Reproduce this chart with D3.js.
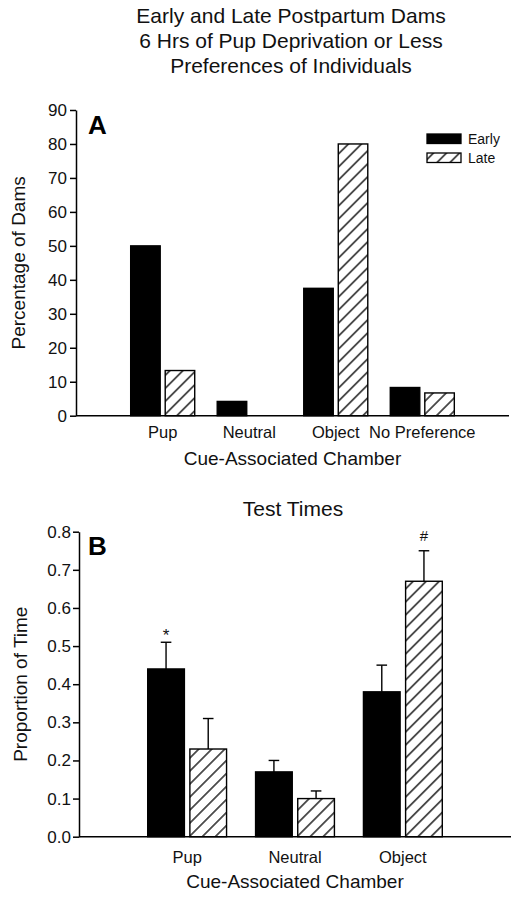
<!DOCTYPE html>
<html>
<head>
<meta charset="utf-8">
<script src="https://cdn.jsdelivr.net/npm/d3@7"></script>
<style>
  html, body { margin: 0; padding: 0; background: #fff; }
  svg { display: block; font-family: "Liberation Sans", Arial, Helvetica, sans-serif; }
</style>
</head>
<body>
<svg id="chart" width="528" height="900"></svg>
<script>
// ---------- DATA ----------
const titleLines = ["Early and Late Postpartum Dams", "6 Hrs of Pup Deprivation or Less", "Preferences of Individuals"];
const seriesNames = ["Early", "Late"];

// Panel A
const catsA = ["Pup", "Neutral", "Object", "No Preference"];
const earlyA = [50, 4.2, 37.5, 8.3];
const lateA = [13.3, 0, 80, 6.7];
const ticksA = [0, 10, 20, 30, 40, 50, 60, 70, 80, 90];

// Panel B
const catsB = ["Pup", "Neutral", "Object"];
const earlyB = [0.44, 0.17, 0.38];
const earlyErrB = [0.07, 0.03, 0.07];
const lateB = [0.23, 0.10, 0.67];
const lateErrB = [0.08, 0.02, 0.08];
const marksB = [["*", null], [null, null], [null, "#"]];
const ticksB = [0, 0.1, 0.2, 0.3, 0.4, 0.5, 0.6, 0.7, 0.8];

// ---------- SETUP ----------
const svg = d3.select("#chart");
const defs = svg.append("defs");
const hw = 9.2;
const pat = defs.append("pattern")
  .attr("id", "hatch")
  .attr("patternUnits", "userSpaceOnUse")
  .attr("width", hw).attr("height", hw)
  .attr("patternTransform", "rotate(45)");
pat.append("rect").attr("width", hw).attr("height", hw).attr("fill", "#fff");
pat.append("line").attr("x1", hw / 2).attr("y1", 0).attr("x2", hw / 2).attr("y2", hw)
  .attr("stroke", "#000").attr("stroke-width", 1.3);

const fillFor = s => s === "Early" ? "#000" : "url(#hatch)";

// Title
svg.append("g").selectAll("text").data(titleLines).join("text")
  .attr("x", 291).attr("y", (d, i) => 23 + i * 25)
  .attr("text-anchor", "middle").attr("font-size", 21).attr("fill", "#111")
  .text(d => d);

function styleAxis(g) {
  g.selectAll("path.domain").attr("stroke", "#000").attr("stroke-width", 1.5);
  g.selectAll(".tick line").attr("stroke", "#000").attr("stroke-width", 1.5);
  g.selectAll(".tick text").attr("fill", "#111").attr("font-size", 17)
    .attr("font-family", "\"Liberation Sans\", Arial, sans-serif");
}

// ---------- PANEL A ----------
(function () {
  const x0 = 76, x1 = 509, yTop = 110, yBot = 415.7;
  const y = d3.scaleLinear().domain([0, 90]).range([yBot, yTop]);
  const x = d3.scaleBand().domain(catsA).range([x0, x1]).paddingInner(0.26).paddingOuter(0.632);
  const xs = d3.scaleBand().domain(seriesNames).range([0, x.bandwidth()]).paddingInner(0.145);
  const g = svg.append("g");

  const rows = catsA.map((c, i) => ({ c, vals: [earlyA[i], lateA[i]] }));
  const grp = g.selectAll("g.grp").data(rows).join("g").attr("class", "grp")
    .attr("transform", d => `translate(${x(d.c)},0)`);
  grp.selectAll("rect").data(d => d.vals.map((v, k) => ({ s: seriesNames[k], v })).filter(e => e.v > 0))
    .join("rect")
    .attr("x", d => xs(d.s)).attr("width", xs.bandwidth())
    .attr("y", d => y(d.v)).attr("height", d => y(0) - y(d.v))
    .attr("fill", d => fillFor(d.s)).attr("stroke", "#000").attr("stroke-width", 1.4);

  const ya = g.append("g").attr("transform", `translate(${x0},0)`)
    .call(d3.axisLeft(y).tickValues(ticksA).tickSize(6).tickSizeOuter(0).tickPadding(3).tickFormat(d3.format("d")));
  styleAxis(ya);
  const xa = g.append("g").attr("transform", `translate(0,${yBot})`)
    .call(d3.axisBottom(x).tickSize(0).tickSizeOuter(0).tickPadding(0));
  styleAxis(xa);
  xa.select("path.domain").attr("d", `M${x0},0H${x1}`);
  xa.selectAll(".tick text").attr("dy", null).attr("y", 22.6).attr("font-size", 16.5);

  g.append("text").attr("x", (x0 + x1) / 2).attr("y", 465).attr("text-anchor", "middle")
    .attr("font-size", 19).attr("fill", "#111").text("Cue-Associated Chamber");
  g.append("text").attr("transform", `translate(25,${(yTop + yBot) / 2}) rotate(-90)`)
    .attr("text-anchor", "middle").attr("font-size", 19).attr("fill", "#111").text("Percentage of Dams");
  g.append("text").attr("x", 88).attr("y", 134).attr("font-size", 26).attr("font-weight", "bold")
    .attr("fill", "#000").text("A");

  // legend
  const lg = g.append("g").selectAll("g").data(seriesNames).join("g")
    .attr("transform", (d, i) => `translate(427,${134 + i * 19})`);
  lg.append("rect").attr("width", 34).attr("height", 9.5)
    .attr("fill", d => fillFor(d)).attr("stroke", "#000").attr("stroke-width", 1.3);
  lg.append("text").attr("x", 41).attr("y", 5).attr("dy", "0.35em")
    .attr("font-size", 14).attr("fill", "#111").text(d => d);
})();

// ---------- PANEL B ----------
(function () {
  const x0 = 79, x1 = 511, yTop = 531.7, yBot = 836.7;
  const y = d3.scaleLinear().domain([0, 0.8]).range([yBot, yTop]);
  const x = d3.scaleBand().domain(catsB).range([x0, x1]).paddingInner(0.269).paddingOuter(0.637);
  const xs = d3.scaleBand().domain(seriesNames).range([0, x.bandwidth()]).paddingInner(0.13);
  const g = svg.append("g");

  g.append("text").attr("x", 293).attr("y", 516).attr("text-anchor", "middle")
    .attr("font-size", 21).attr("fill", "#111").text("Test Times");

  const rows = catsB.map((c, i) => ({
    c,
    bars: [
      { s: "Early", v: earlyB[i], e: earlyErrB[i], m: marksB[i][0] },
      { s: "Late", v: lateB[i], e: lateErrB[i], m: marksB[i][1] }
    ]
  }));
  const grp = g.selectAll("g.grp").data(rows).join("g").attr("class", "grp")
    .attr("transform", d => `translate(${x(d.c)},0)`);
  const bar = grp.selectAll("g.bar").data(d => d.bars).join("g").attr("class", "bar");
  const cx = d => xs(d.s) + xs.bandwidth() / 2;
  bar.append("line")
    .attr("x1", cx).attr("x2", cx)
    .attr("y1", d => y(d.v)).attr("y2", d => y(d.v + d.e))
    .attr("stroke", "#000").attr("stroke-width", 1.4);
  bar.append("line")
    .attr("x1", d => cx(d) - 5.3).attr("x2", d => cx(d) + 5.3)
    .attr("y1", d => y(d.v + d.e)).attr("y2", d => y(d.v + d.e))
    .attr("stroke", "#000").attr("stroke-width", 1.4);
  bar.append("rect")
    .attr("x", d => xs(d.s)).attr("width", xs.bandwidth())
    .attr("y", d => y(d.v)).attr("height", d => y(0) - y(d.v))
    .attr("fill", d => fillFor(d.s)).attr("stroke", "#000").attr("stroke-width", 1.4);
  bar.filter(d => d.m).append("text")
    .attr("x", cx)
    .attr("y", d => y(d.v + d.e) - (d.m === "*" ? 1 : 9.5))
    .attr("text-anchor", "middle").attr("font-size", d => d.m === "*" ? 17 : 15)
    .attr("fill", "#111").text(d => d.m);

  const ya = g.append("g").attr("transform", `translate(${x0},0)`)
    .call(d3.axisLeft(y).tickValues(ticksB).tickSize(6).tickSizeOuter(0).tickPadding(2).tickFormat(d3.format(".1f")));
  styleAxis(ya);
  const xa = g.append("g").attr("transform", `translate(0,${yBot})`)
    .call(d3.axisBottom(x).tickSize(0).tickSizeOuter(0).tickPadding(0));
  styleAxis(xa);
  xa.select("path.domain").attr("d", `M${x0},0H${x1}`);
  xa.selectAll(".tick text").attr("dy", null).attr("y", 26.6).attr("font-size", 16.5);

  g.append("text").attr("x", (x0 + x1) / 2).attr("y", 888).attr("text-anchor", "middle")
    .attr("font-size", 19).attr("fill", "#111").text("Cue-Associated Chamber");
  g.append("text").attr("transform", `translate(26.5,${(yTop + yBot) / 2}) rotate(-90)`)
    .attr("text-anchor", "middle").attr("font-size", 19).attr("fill", "#111").text("Proportion of Time");
  g.append("text").attr("x", 88).attr("y", 555).attr("font-size", 26).attr("font-weight", "bold")
    .attr("fill", "#000").text("B");
})();
</script>
</body>
</html>
